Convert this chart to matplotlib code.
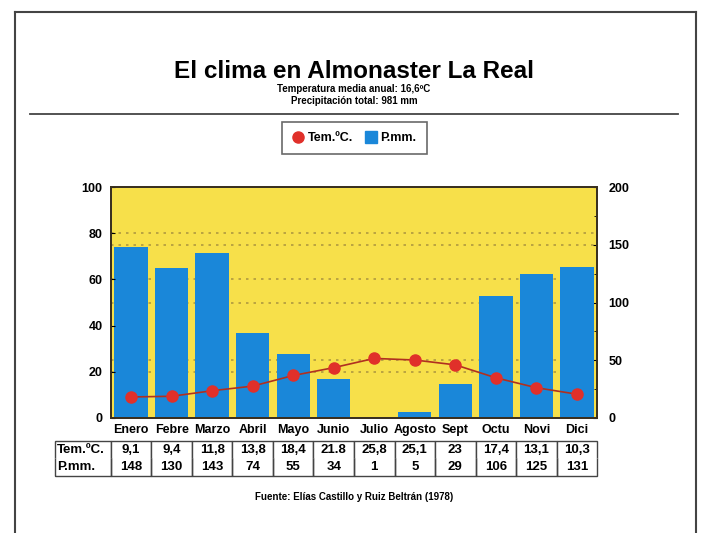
import numpy as np
import matplotlib.pyplot as plt
from matplotlib.lines import Line2D

plt.rcParams['font.family'] = ['Liberation Sans', 'DejaVu Sans']
plt.rcParams['font.weight'] = 'bold'

meses = ['Enero', 'Febre', 'Marzo', 'Abril', 'Mayo', 'Junio',
         'Julio', 'Agosto', 'Sept', 'Octu', 'Novi', 'Dici']
temp = [9.1, 9.4, 11.8, 13.8, 18.4, 21.8, 25.8, 25.1, 23, 17.4, 13.1, 10.3]
prec = [148, 130, 143, 74, 55, 34, 1, 5, 29, 106, 125, 131]
temp_txt = ['9,1', '9,4', '11,8', '13,8', '18,4', '21.8', '25,8', '25,1', '23', '17,4', '13,1', '10,3']
prec_txt = [str(p) for p in prec]
lineas_punteadas = [40, 50, 100, 120, 150, 160]  # en mm

amarillo = '#f7e04a'
azul = '#1a87d9'
rojo = '#e0302a'

fig = plt.figure(figsize=(7.01, 5.33), dpi=100)
ax = fig.add_axes([0.158, 0.2158, 0.694, 0.4332])
ax2 = ax.twinx()

x = np.arange(len(meses))
ax2.bar(x, prec, width=0.82, color=azul, zorder=2)
ax.set_zorder(ax2.get_zorder() + 1)
ax.patch.set_visible(False)
ax2.patch.set_visible(True)
ax2.patch.set_facecolor(amarillo)
for y in lineas_punteadas:
    ax2.axhline(y, color='#b09a40', ls=(0, (1.5, 3)), lw=1.2, zorder=1)
ax.plot(x, temp, color='#b03020', lw=1.2, marker='o', markersize=8,
        markerfacecolor=rojo, markeredgecolor=rojo, zorder=3)

ax.set_xlim(-0.5, 11.5)
ax.set_ylim(0, 100)
ax2.set_ylim(0, 200)
ax.set_yticks([0, 20, 40, 60, 80, 100])
ax2.set_yticks([0, 50, 100, 150, 200])
ax2.set_yticks(np.arange(0, 201, 25), minor=True)
ax.set_xticks(x)
ax.set_xticklabels(meses, fontsize=9, fontweight='bold')
ax.tick_params(axis='x', length=0, pad=4)
ax.tick_params(axis='y', labelsize=9, length=3, direction='in', pad=6)
ax2.tick_params(axis='y', labelsize=9, length=3, direction='in', pad=8)
ax2.tick_params(axis='y', which='minor', length=2, direction='in')
for a in (ax, ax2):
    for s in a.spines.values():
        s.set_color('#3a3020')
        s.set_linewidth(1.3)

# tabla de datos
celdas = [['Tem.ºC.'] + temp_txt, ['P.mm.'] + prec_txt]
ancho_lab = 56 / 486
anchos = [ancho_lab] + [1 / 12] * 12
tabla = ax.table(cellText=celdas, colWidths=anchos, cellLoc='center',
                 bbox=[-ancho_lab, -0.251, 1 + ancho_lab, 0.1515])
tabla.auto_set_font_size(False)
for (r, c), cell in tabla.get_celld().items():
    cell.set_fontsize(9.5)
    cell.get_text().set_fontweight('bold')
    cell.set_edgecolor('#444444')
    cell.set_linewidth(1.0)
    cell.visible_edges = 'LRT' if r == 0 else 'LRB'
    if c == 0:
        cell.get_text().set_ha('left')
        cell.PAD = 0.04

# leyenda
h1 = Line2D([], [], marker='o', color='none', markerfacecolor=rojo,
            markeredgecolor=rojo, markersize=8)
h2 = Line2D([], [], marker='s', color='none', markerfacecolor=azul,
            markeredgecolor=azul, markersize=8)
leg = fig.legend([h1, h2], ['Tem.ºC.', 'P.mm.'], loc='center',
                 bbox_to_anchor=(0.505, 0.741), ncol=2, fancybox=False,
                 prop={'size': 9, 'weight': 'bold'}, handletextpad=0.3,
                 columnspacing=0.9, borderpad=0.8, handlelength=1)
leg.get_frame().set_edgecolor('#444444')
leg.get_frame().set_linewidth(1.2)

# textos
fig.text(0.505, 0.866, 'El clima en Almonaster La Real', ha='center', va='center',
         fontsize=17.5, fontweight='bold')
fig.text(0.505, 0.833, 'Temperatura media anual: 16,6ºC', ha='center', va='center',
         fontsize=7, fontweight='bold')
fig.text(0.505, 0.811, 'Precipitación total: 981 mm', ha='center', va='center',
         fontsize=7, fontweight='bold')
fig.text(0.505, 0.067, 'Fuente: Elías Castillo y Ruiz Beltrán (1978)', ha='center',
         va='center', fontsize=7, fontweight='bold')

# marco de la página
gris = '#444444'
fig.add_artist(Line2D([15 / 701, 15 / 701], [0, 1 - 12 / 533], color=gris, lw=1.5))
fig.add_artist(Line2D([696 / 701, 696 / 701], [0, 1 - 12 / 533], color=gris, lw=1.5))
fig.add_artist(Line2D([15 / 701, 696 / 701], [1 - 12 / 533, 1 - 12 / 533], color=gris, lw=1.5))
fig.add_artist(Line2D([30 / 701, 678 / 701], [1 - 114 / 533, 1 - 114 / 533], color=gris, lw=1.3))

fig.savefig('out.png', dpi=100)
